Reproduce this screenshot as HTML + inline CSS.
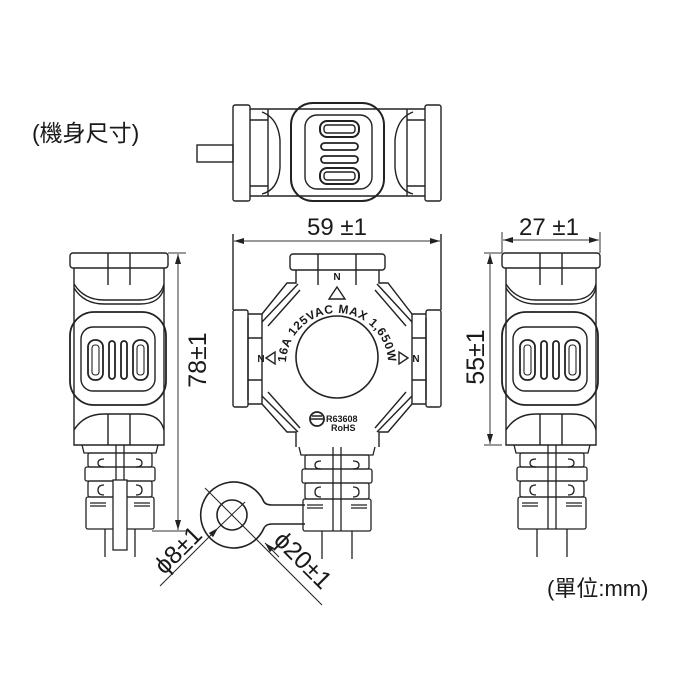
<!DOCTYPE html>
<html><head><meta charset="utf-8"><style>
html,body{margin:0;padding:0;background:#fff;width:700px;height:700px;overflow:hidden}
svg{display:block}
text{font-family:"Liberation Sans","Noto Sans CJK TC",sans-serif;fill:#1a1a1a}
</style></head><body>
<svg width="700" height="700" viewBox="0 0 700 700" xmlns="http://www.w3.org/2000/svg">
<defs>
<marker id="ar" viewBox="0 0 10 6" refX="10" refY="3" markerWidth="10" markerHeight="6" orient="auto-start-reverse" markerUnits="userSpaceOnUse"><path d="M0,0 L10,3 L0,6 z" fill="#222"/></marker>
<g id="conn" fill="none" stroke="#222" stroke-width="1.3">
  <path d="M-38,0 L-36,8 L36,8 L38,0"/>
  <rect x="-32" y="8" width="64" height="14" rx="2"/>
  <rect x="-35" y="22" width="70" height="14" rx="2"/>
  <rect x="-32" y="36" width="64" height="16" rx="2"/>
  <rect x="-34" y="52" width="68" height="32" rx="2"/>
  <path d="M-30,58 H-14 M14,58 H30 M-30,61 H-14 M14,61 H30"/>
  <path d="M-16,14 Q-22,14 -22,18 Q-22,22 -16,22 M16,14 Q22,14 22,18 Q22,22 16,22"/>
  <path d="M-16,40 Q-22,40 -22,45 Q-22,50 -16,50 M16,40 Q22,40 22,45 Q22,50 16,50"/>
  <path d="M-4,0 V84 M4,0 V84"/>
  <path d="M-15,84 V112 M15,84 V112"/>
</g>
<g id="side" fill="none" stroke="#222" stroke-width="1.4">
  <rect x="70" y="253" width="98" height="15" rx="3"/>
  <path d="M74,268 L74,445 L164,445 L164,268"/>
  <path d="M108,253 V285 M130,253 V285"/>
  <path d="M74,284 Q84,300 104,300 L140,300 Q160,300 164,284" />
  <path d="M74,288 Q84,304 104,304 L140,304 Q160,304 164,288"/>
  <rect x="70" y="312" width="96" height="93" rx="24" stroke-width="1.8"/>
  <rect x="81" y="327" width="74" height="64" rx="12"/>
  <path d="M74,430 Q84,414 104,414 L140,414 Q160,414 164,430"/>
  <path d="M108,414 V445 M130,414 V445"/>
</g>
</defs>

<text x="32" y="141" font-size="23">(機身尺寸)</text>
<text x="547" y="596" font-size="22">(單位:mm)</text>

<!-- TOP VIEW -->
<g fill="none" stroke="#222" stroke-width="1.4">
  <rect x="197" y="145" width="36" height="17"/>
  <rect x="233" y="105" width="17" height="96" rx="2"/>
  <rect x="425" y="105" width="16" height="96" rx="2"/>
  <path d="M250,109 H425 M250,196 H425"/>
  <path d="M250,120 H268 M250,186 H268 M425,120 H407 M425,186 H407"/>
  <path d="M268,109 V196 M407,109 V196"/>
  <path d="M262,112 Q278,118 280,140 L280,168 Q278,190 262,194"/>
  <path d="M413,112 Q397,118 395,140 L395,168 Q397,190 413,194"/>
  <rect x="291" y="103" width="93" height="98" rx="22" stroke-width="2"/>
  <rect x="305" y="115" width="67" height="74" rx="12"/>
  <rect x="320" y="121" width="39" height="16" rx="7" stroke-width="2"/>
  <rect x="324" y="125" width="31" height="8" rx="3"/>
  <rect x="321" y="143" width="37" height="7" rx="3.5" stroke-width="1.8"/>
  <rect x="321" y="156" width="37" height="7" rx="3.5" stroke-width="1.8"/>
  <rect x="320" y="168" width="39" height="16" rx="7" stroke-width="2"/>
  <rect x="324" y="172" width="31" height="8" rx="3"/>
</g>

<!-- LEFT SIDE VIEW -->
<use href="#side"/>
<g fill="none" stroke="#222" stroke-width="1.8">
  <rect x="88" y="340" width="15" height="40" rx="7"/>
  <rect x="92" y="345" width="7" height="30" rx="3" stroke-width="1.1"/>
  <rect x="109" y="341" width="6" height="38" rx="3"/>
  <rect x="121" y="341" width="6" height="38" rx="3"/>
  <rect x="133" y="340" width="15" height="40" rx="7"/>
  <rect x="137" y="345" width="7" height="30" rx="3" stroke-width="1.1"/>
</g>
<use href="#conn" x="120" y="445"/>
<rect x="113" y="480" width="14" height="70" fill="#fff" stroke="#222" stroke-width="1.3"/>
<g stroke="#333" stroke-width="1" fill="none">
  <path d="M168,253 H186 M152,531 H186"/>
  <line x1="178" y1="254" x2="178" y2="530" marker-start="url(#ar)" marker-end="url(#ar)"/>
</g>
<text transform="translate(206,360) rotate(-90)" font-size="25" text-anchor="middle">78±1</text>

<!-- RIGHT SIDE VIEW -->
<use href="#side" x="432"/>
<g fill="none" stroke="#222" stroke-width="1.8">
  <rect x="520" y="340" width="15" height="40" rx="7"/>
  <rect x="524" y="345" width="7" height="30" rx="3" stroke-width="1.1"/>
  <rect x="541" y="341" width="6" height="38" rx="3"/>
  <rect x="553" y="341" width="6" height="38" rx="3"/>
  <rect x="565" y="340" width="15" height="40" rx="7"/>
  <rect x="569" y="345" width="7" height="30" rx="3" stroke-width="1.1"/>
</g>
<use href="#conn" x="552" y="445"/>
<g stroke="#333" stroke-width="1" fill="none">
  <path d="M502,253 V232 M600,253 V232"/>
  <line x1="503" y1="240" x2="599" y2="240" marker-start="url(#ar)" marker-end="url(#ar)"/>
  <path d="M502,253 H484 M502,445 H484"/>
  <line x1="490" y1="254" x2="490" y2="444" marker-start="url(#ar)" marker-end="url(#ar)"/>
</g>
<text x="549" y="235" font-size="24" text-anchor="middle">27 ±1</text>
<text transform="translate(484,357) rotate(-90)" font-size="25" text-anchor="middle">55±1</text>

<!-- FRONT VIEW -->
<g stroke="#333" stroke-width="1" fill="none">
  <line x1="234" y1="241" x2="440" y2="241" marker-start="url(#ar)" marker-end="url(#ar)"/>
</g>
<text x="337" y="235" font-size="24" text-anchor="middle">59 ±1</text>
<g fill="none" stroke="#222" stroke-width="1.4">
  <path d="M233,234 V310 M441,234 V310"/>
  <rect x="290" y="254" width="95" height="16" rx="3"/>
  <path d="M318,254 V285 M356,254 V285"/>
  <rect x="233" y="310" width="15" height="97" rx="2"/>
  <rect x="426" y="310" width="15" height="97" rx="2"/>
  <path d="M248,318 V400 M426,318 V400 M248,338 H262 M248,380 H262 M426,338 H412 M426,380 H412"/>
  <path d="M296,270 L296,283 L287,283 L262,314 L248,314 M248,404 L262,404 L287,432 L296,432 L296,447 M379,447 L379,432 L388,432 L412,404 L426,404 M426,314 L412,314 L388,283 L379,283 L379,270"/>
  <path d="M262,314 V404 M412,314 V404"/>
  <path d="M298,284 L262,322 M300,290 L268,326 M377,284 L412,322 M375,290 L406,326"/>
  <path d="M262,396 L298,432 M268,392 L300,428 M412,396 L377,432 M406,392 L375,428"/>
  <circle cx="337" cy="357" r="41" stroke-width="1.6"/>
  <path d="M329,299 L337,287 L345,299 z"/>
  <path d="M266,358 L275,352 L275,364 z"/>
  <path d="M408,358 L399,352 L399,364 z"/>
  <circle cx="317" cy="419" r="7" stroke-width="1.8"/>
  <path d="M311,419 H323 M312,416 H322"/>
</g>
<text x="337" y="279" font-size="10" font-weight="bold" text-anchor="middle" transform="rotate(180 337 276)">N</text>
<text x="261" y="362" font-size="10" font-weight="bold" text-anchor="middle">N</text>
<text x="416" y="362" font-size="10" font-weight="bold" text-anchor="middle">N</text>
<path id="arcT" d="M286,364 A51,51 0 1 1 388,364" fill="none"/>
<text font-size="12" font-weight="bold" letter-spacing="0.6"><textPath href="#arcT" startOffset="50%" text-anchor="middle">16A 125VAC MAX 1,650W</textPath></text>
<text x="326" y="422" font-size="9" font-weight="bold">R63608</text>
<text x="331" y="431" font-size="9" font-weight="bold">RoHS</text>
<use href="#conn" x="337" y="447"/>

<!-- LUG -->
<g fill="none" stroke="#222" stroke-width="1.6">
  <path d="M264,502 A33,33 0 1 0 264,528 Q266,524 272,524 L305,524 M305,505 L272,505 Q266,505 264,502"/>
  <circle cx="232" cy="515" r="15"/>
</g>
<g stroke="#222" stroke-width="1" fill="none">
  <line x1="205" y1="488" x2="322" y2="605" />
  <line x1="160" y1="586" x2="218" y2="528" marker-end="url(#ar)"/>
  <line x1="245" y1="502" x2="218" y2="528"/>
  <line x1="279" y1="557" x2="265" y2="543" marker-end="url(#ar)"/>
</g>
<text transform="translate(184,556) rotate(-45)" font-size="25" text-anchor="middle">ϕ8±1</text>
<text transform="translate(297,566) rotate(45)" font-size="25" text-anchor="middle">ϕ20±1</text>
</svg>
</body></html>
